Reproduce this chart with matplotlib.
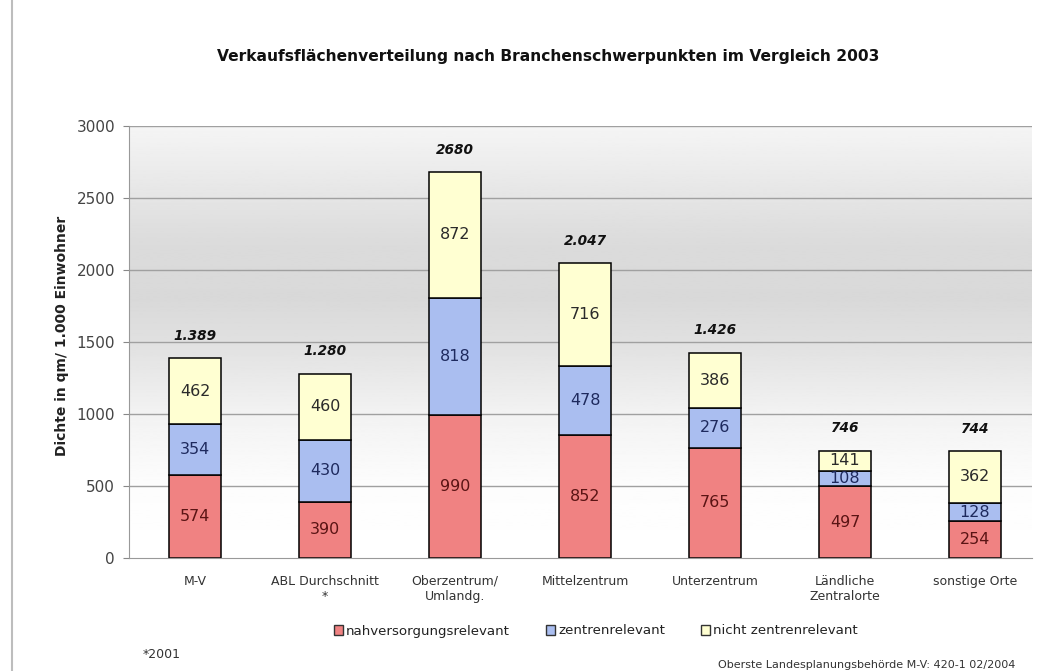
import matplotlib.pyplot as plt
from matplotlib.patches import Patch
import numpy as np

# data
categories = ["M-V", "ABL Durchschnitt\n*", "Oberzentrum/\nUmlandg.", "Mittelzentrum",
              "Unterzentrum", "Ländliche\nZentralorte", "sonstige Orte"]
nahversorgung = [574, 390, 990, 852, 765, 497, 254]
zentren = [354, 430, 818, 478, 276, 108, 128]
nicht_zentren = [462, 460, 872, 716, 386, 141, 362]
total_labels = ["1.389", "1.280", "2680", "2.047", "1.426", "746", "744"]
series_names = ["nahversorgungsrelevant", "zentrenrelevant", "nicht zentrenrelevant"]

colors = ["#f08282", "#aabef0", "#ffffd2"]
text_colors = ["#5a1414", "#1e2a5e", "#2a2a2a"]

fig = plt.figure(figsize=(10.42, 6.71), dpi=100)
ax = fig.add_axes([129 / 1042, 1 - 558 / 671, (1032 - 129) / 1042, (558 - 126) / 671])

x = np.arange(len(categories))
xlim = (-0.508, 6.438)

# soft grey band behind the bars, like the scanned original
ys = np.linspace(0, 3000, 300)
shade = np.interp(ys, [0, 500, 1000, 1500, 1800, 2200, 2600, 3000],
                  [1.0, 0.99, 0.95, 0.88, 0.85, 0.86, 0.91, 0.96])
ax.imshow(shade[:, None], cmap="gray", vmin=0, vmax=1, aspect="auto",
          extent=[xlim[0], xlim[1], 0, 3000], origin="lower", zorder=0)

for y in range(500, 3001, 500):
    ax.axhline(y, color="#a0a0a0", lw=1, zorder=1)

bottom = np.zeros(len(categories))
for vals, col, tcol in zip([nahversorgung, zentren, nicht_zentren], colors, text_colors):
    vals = np.array(vals)
    ax.bar(x, vals, 0.4, bottom=bottom, color=col, edgecolor="black", lw=1.1, zorder=2)
    for xi, b, v in zip(x, bottom, vals):
        ax.text(xi, b + v / 2, str(v), ha="center", va="center", fontsize=11.5,
                color=tcol, zorder=3)
    bottom += vals

for xi, top, lab in zip(x, bottom, total_labels):
    ax.annotate(lab, (xi, top), xytext=(0, 16), textcoords="offset points",
                ha="center", va="center", fontsize=9.8, fontweight="bold",
                fontstyle="italic", color="#111111")

ax.set_xlim(*xlim)
ax.set_ylim(0, 3000)
ax.set_yticks(range(0, 3001, 500))
ax.set_xticks(x)
ax.set_xticklabels(categories, fontsize=9, color="#333333", linespacing=1.2)
ax.tick_params(axis="x", length=0, pad=12)
ax.tick_params(axis="y", length=4, color="#888888", labelsize=11, labelcolor="#444444", pad=6)
for side in ["top", "right"]:
    ax.spines[side].set_visible(False)
ax.spines["left"].set_color("#999999")
ax.spines["bottom"].set_color("#999999")

fig.text(548 / 1042, 1 - 57 / 671, "Verkaufsflächenverteilung nach Branchenschwerpunkten im Vergleich 2003",
         ha="center", va="center", fontsize=11.2, fontweight="bold", color="#111111")
fig.text(62 / 1042, 1 - 336 / 671, "Dichte in qm/ 1.000 Einwohner", rotation=90,
         ha="center", va="center", fontsize=10, fontweight="bold", color="#222222")

handles = [Patch(facecolor=c, edgecolor="#333333", lw=1) for c in colors]
fig.legend(handles, series_names, loc="center", bbox_to_anchor=(596 / 1042, 1 - 631 / 671),
           ncol=3, frameon=False, fontsize=9.6, handlelength=0.7, handleheight=0.7,
           handletextpad=0.2, columnspacing=2.7, labelcolor="#222222")

fig.text(143 / 1042, 1 - 654 / 671, "*2001", ha="left", va="center", fontsize=9, color="#333333")
fig.text(1015 / 1042, 1 - 665 / 671, "Oberste Landesplanungsbehörde M-V: 420-1 02/2004",
         ha="right", va="center", fontsize=8, color="#333333")

# scan edge on the left
fig.add_artist(plt.Line2D([11.5 / 1042, 11.5 / 1042], [0, 1], color="#bdbdbd", lw=1.5))

fig.savefig("out.png", dpi=100)
plt.close(fig)
